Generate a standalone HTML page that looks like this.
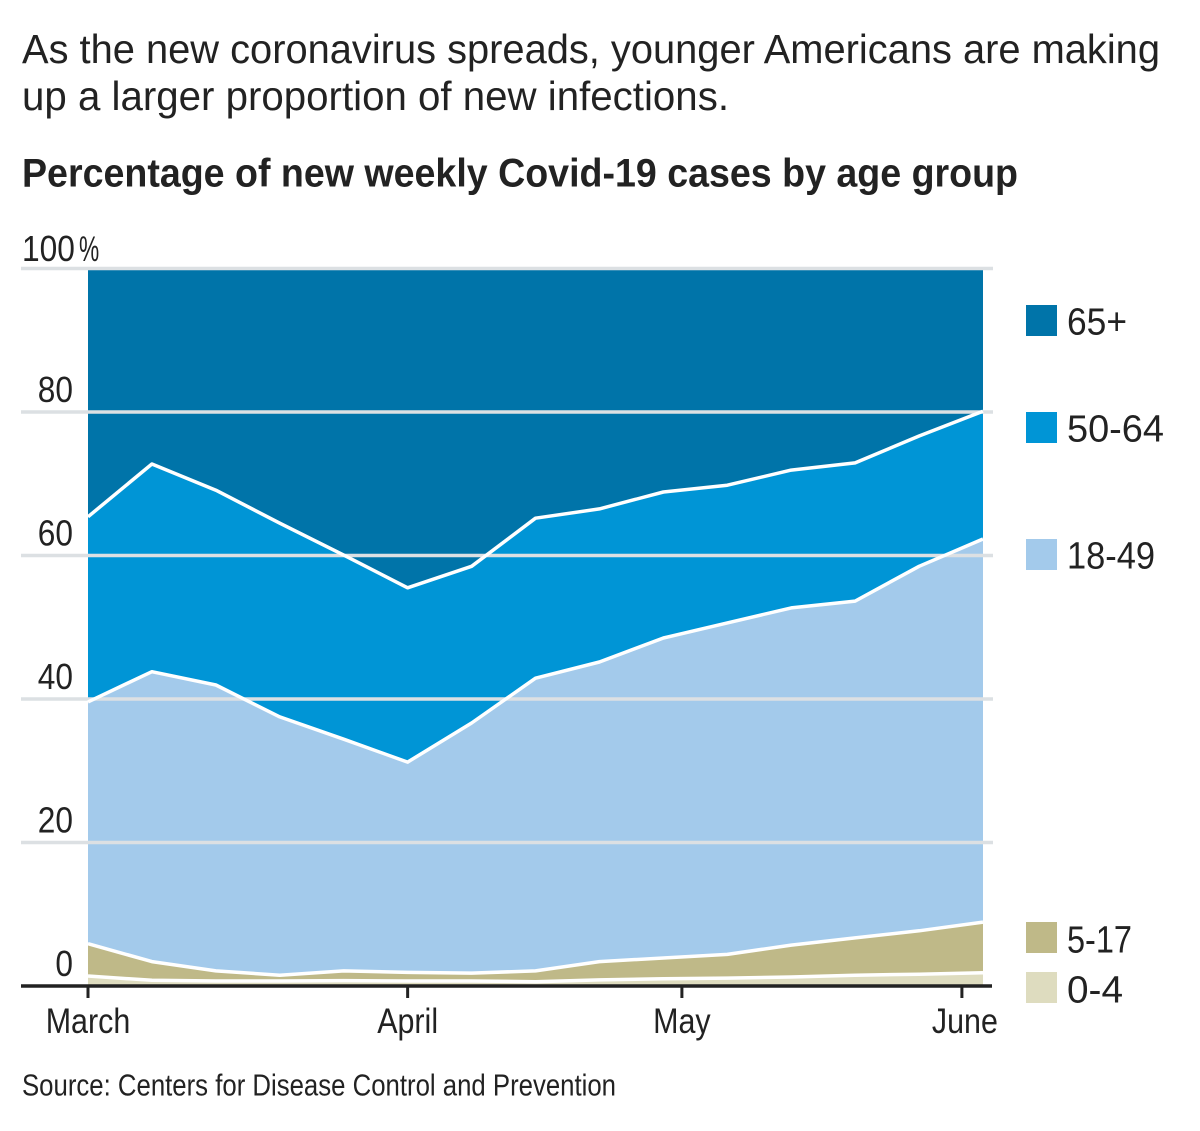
<!DOCTYPE html>
<html>
<head>
<meta charset="utf-8">
<title>Percentage of new weekly Covid-19 cases by age group</title>
<style>
html,body{margin:0;padding:0;background:#fff;width:1200px;height:1131px;overflow:hidden}
svg{display:block}
text{font-family:"Liberation Sans",sans-serif;fill:#222}
</style>
</head>
<body>
<svg id="chart" width="1200" height="1131" viewBox="0 0 1200 1131" xmlns="http://www.w3.org/2000/svg">
  <text x="22" y="63" font-size="41" textLength="1138" lengthAdjust="spacingAndGlyphs">As the new coronavirus spreads, younger Americans are making</text>
  <text x="22" y="110" font-size="41" textLength="707" lengthAdjust="spacingAndGlyphs">up a larger proportion of new infections.</text>
  <text x="22" y="186.5" font-size="39.5" font-weight="700" textLength="996" lengthAdjust="spacingAndGlyphs">Percentage of new weekly Covid-19 cases by age group</text>

  <g id="areas"></g>
  <g id="grid"></g>
  <g id="lines"></g>
  <g id="yaxis"></g>
  <g id="xaxis"></g>

  <g>
    <g>
      <rect x="1026" y="305" width="31" height="31" fill="#0074a9"/>
      <text x="1067" y="334.5" font-size="38" textLength="60" lengthAdjust="spacingAndGlyphs">65+</text>
    </g>
    <g>
      <rect x="1026" y="412" width="31" height="31" fill="#0095d6"/>
      <text x="1067" y="441.5" font-size="38" textLength="97" lengthAdjust="spacingAndGlyphs">50-64</text>
    </g>
    <g>
      <rect x="1026" y="539" width="31" height="31" fill="#a3caeb"/>
      <text x="1067" y="568.5" font-size="38" textLength="88" lengthAdjust="spacingAndGlyphs">18-49</text>
    </g>
    <g>
      <rect x="1026" y="922" width="31" height="31" fill="#bfb988"/>
      <text x="1067" y="952.5" font-size="38" textLength="65" lengthAdjust="spacingAndGlyphs">5-17</text>
    </g>
    <g>
      <rect x="1026" y="972" width="31" height="31" fill="#dedcbf"/>
      <text x="1067" y="1002.5" font-size="38" textLength="56" lengthAdjust="spacingAndGlyphs">0-4</text>
    </g>
  </g>

  <text x="22" y="1095.5" font-size="31" textLength="594" lengthAdjust="spacingAndGlyphs">Source: Centers for Disease Control and Prevention</text>
</svg>
<script>
// Share of weekly cases (percent) per age group, one value per week.
const age0to4   = [1.4, 0.8, 0.7, 0.7, 0.75, 0.7, 0.7, 0.6, 0.85, 1.0, 1.1, 1.25, 1.5, 1.65, 1.85];
const age5to17  = [4.5, 2.6, 1.4, 0.8, 1.35, 1.2, 1.1, 1.5, 2.55, 2.9, 3.3, 4.45, 5.2, 6.05, 7.05];
const age18to49 = [33.7, 40.4, 39.85, 36, 32.3, 29.3, 34.85, 40.8, 41.75, 44.6, 46.2, 47, 46.95, 50.8, 53.4];
const age50to64 = [25.8, 28.95, 27.15, 27, 25.65, 24.3, 21.85, 22.3, 21.35, 20.35, 19.2, 19.2, 19.25, 18.15, 17.8];
const age65plus = [34.6, 27.25, 30.9, 35.5, 39.95, 44.5, 41.5, 34.8, 33.5, 31.15, 30.2, 28.1, 27.1, 23.35, 19.9];
const seriesNames = ['0-4', '5-17', '18-49', '50-64', '65-plus'];
const yTickValues = [0, 20, 40, 60, 80, 100];
const monthLabels = ['March', 'April', 'May', 'June'];
const monthWeekIndex = [0, 5, 9.29, 13.67];

const SVGNS = 'http://www.w3.org/2000/svg';
const seriesValues = [age0to4, age5to17, age18to49, age50to64, age65plus];
const seriesColors = ['#dedcbf', '#bfb988', '#a3caeb', '#0095d6', '#0074a9'];
const weekCount = age0to4.length;

function xScale(week) { return 88 + week * (983 - 88) / (weekCount - 1); }
function yScale(value) { return 986 - value * (986 - 268.5) / 100; }
function make(tag, attrs) {
  const el = document.createElementNS(SVGNS, tag);
  for (const key in attrs) el.setAttribute(key, attrs[key]);
  return el;
}
function squeeze(el, factor) {
  el.setAttribute('textLength', (el.getComputedTextLength() * factor).toFixed(1));
  el.setAttribute('lengthAdjust', 'spacingAndGlyphs');
}

const areasG = document.getElementById('areas');
const linesG = document.getElementById('lines');
const gridG = document.getElementById('grid');
const yAxisG = document.getElementById('yaxis');
const xAxisG = document.getElementById('xaxis');

// Stacked areas and boundary lines
let baseline = new Array(weekCount).fill(0);
seriesValues.forEach(function (values, s) {
  const top = values.map(function (v, i) { return baseline[i] + v; });
  const upper = top.map(function (v, i) { return xScale(i).toFixed(1) + ',' + yScale(v).toFixed(1); });
  const lower = baseline.map(function (v, i) { return xScale(i).toFixed(1) + ',' + yScale(v).toFixed(1); }).reverse();
  const area = make('polygon', { points: upper.concat(lower).join(' '), fill: seriesColors[s] });
  
  
  areasG.appendChild(area);
  if (s < seriesValues.length - 1) {
    const line = make('polyline', { points: upper.join(' '), fill: 'none', stroke: '#fff', 'stroke-width': 3.5, 'stroke-linejoin': 'round' });
    
    
    linesG.appendChild(line);
  }
  baseline = top;
});

// Y axis gridlines and labels
yTickValues.forEach(function (tick) {
  const y = yScale(tick);
  if (tick > 0) {
    const grid = make('line', { x1: 21, x2: 993, y1: y, y2: y, stroke: '#dce0e3', 'stroke-width': 3.6 });
    
    
    gridG.appendChild(grid);
  }
  const label = make('text', { x: 22, y: tick === 100 ? y - 7.5 : y - 10, 'font-size': 36 });
  label.textContent = tick;
  
  
  yAxisG.appendChild(label);
  squeeze(label, 0.88);
  if (tick === 100) {
    const percent = make('text', { x: 79, y: y - 7.5, 'font-size': 35 });
    percent.textContent = '%';
    
    
    yAxisG.appendChild(percent);
    squeeze(percent, 0.65);
  } else {
    label.setAttribute('text-anchor', 'end');
    label.setAttribute('x', 73);
  }
});

// X axis baseline, ticks and labels
const axisLine = make('line', { x1: 21, x2: 992, y1: 986, y2: 986, stroke: '#222', 'stroke-width': 3.4 });


xAxisG.appendChild(axisLine);
monthLabels.forEach(function (name, m) {
  const x = xScale(monthWeekIndex[m]);
  const tick = make('line', { x1: x, x2: x, y1: 986, y2: 998, stroke: '#222', 'stroke-width': 3 });
  
  
  xAxisG.appendChild(tick);
  const label = make('text', { x: x + (m === 3 ? 3 : 0), y: 1033, 'font-size': 35, 'text-anchor': 'middle' });
  label.textContent = name;
  
  
  xAxisG.appendChild(label);
  squeeze(label, 0.87);
});
</script>
</body>
</html>
